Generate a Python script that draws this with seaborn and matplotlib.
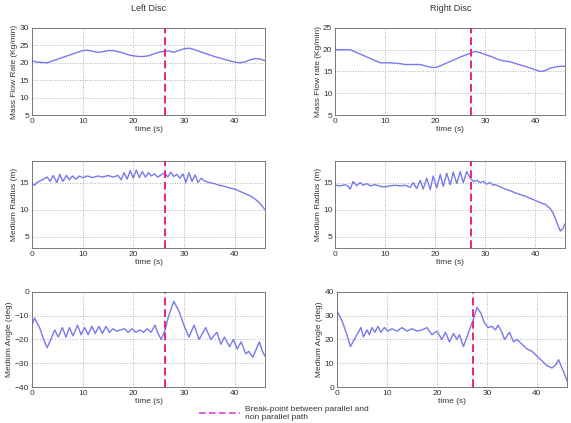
import numpy as np
import matplotlib
matplotlib.use("Agg")
import matplotlib.pyplot as plt
import seaborn as sns
from matplotlib.lines import Line2D

# Mass flow rate, left disc
t_flow_l = [0, 1, 3, 5, 7, 9, 10, 11, 12, 13, 14, 15, 16, 17, 18, 19, 20, 21, 22, 23,
            24, 25, 26, 27, 28, 29, 30, 31, 32, 33, 34, 35, 36, 37, 38, 39, 40, 41,
            42, 43, 44, 45, 46]
flow_l = [20.5, 20.2, 20.0, 21.0, 22.0, 23.0, 23.5, 23.6, 23.3, 23.0, 23.2, 23.5, 23.5,
          23.2, 22.8, 22.3, 22.0, 21.8, 21.8, 22.0, 22.5, 23.0, 23.3, 23.4, 23.0, 23.5,
          24.0, 24.2, 23.8, 23.3, 22.8, 22.3, 21.8, 21.4, 21.0, 20.6, 20.2, 20.0, 20.2,
          20.8, 21.2, 21.1, 20.6]

# Mass flow rate, right disc
t_flow_r = [0, 2, 3, 5, 7, 9, 11, 13, 14, 17, 19, 20, 21, 23, 25, 27, 28, 29, 31, 33,
            35, 37, 39, 41, 42, 43, 44, 45, 46]
flow_r = [20.0, 20.0, 20.0, 19.0, 18.0, 17.0, 17.0, 16.8, 16.6, 16.6, 16.0, 15.9, 16.3,
          17.3, 18.3, 19.2, 19.6, 19.3, 18.5, 17.6, 17.2, 16.5, 15.8, 15.0, 15.2, 15.8,
          16.0, 16.2, 16.2]

# Medium radius, left disc
t_rad_l = [0, 0.5, 1, 2, 3, 3.6, 4.2, 4.9, 5.5, 6.1, 6.8, 7.4, 8.0, 8.7, 9.3, 10, 11,
           12, 13, 14, 15, 16, 17, 17.6, 18.2, 18.8, 19.4, 20.0, 20.6, 21.2, 21.8, 22.4,
           23.0, 23.6, 24.2, 24.8, 25.5, 26.2, 26.8, 27.4, 28.0, 28.6, 29.2, 29.8, 30.4,
           31.0, 31.6, 32.2, 32.8, 33.4, 34, 35, 36, 37, 38, 39, 40, 41, 42, 43, 44, 45,
           45.5, 46]
rad_l = [14.8, 14.5, 15.0, 15.5, 16.0, 15.2, 16.3, 15.0, 16.5, 15.2, 16.3, 15.5, 16.2,
         15.6, 16.2, 15.9, 16.2, 15.9, 16.2, 16.0, 16.3, 16.0, 16.3, 15.5, 16.8, 15.6,
         17.2, 15.8, 17.3, 15.9, 17.0, 16.0, 16.8, 16.2, 16.6, 16.0, 16.4, 16.8, 16.0,
         16.9, 16.1, 16.5, 15.8, 16.6, 15.0, 16.8, 15.2, 16.4, 15.0, 15.8, 15.3, 15.0,
         14.8, 14.5, 14.3, 14.0, 13.8, 13.4, 13.0, 12.6, 12.0, 11.2, 10.6, 10.0]

# Medium radius, right disc
t_rad_r = [0, 1, 2, 2.6, 3.0, 3.6, 4.3, 5.0, 5.6, 6.3, 7, 8, 9, 10, 11, 12, 13, 14,
           15, 15.6, 16.3, 17.0, 17.6, 18.3, 19.0, 19.6, 20.3, 21.0, 21.6, 22.3, 23.0,
           23.6, 24.3, 25.0, 25.6, 26.3, 27.0, 27.6, 28.3, 29.0, 29.6, 30.3, 31.0, 31.6,
           32, 33, 34, 35, 36, 37, 38, 39, 40, 41, 42, 43, 43.5, 44, 44.5, 45, 45.5, 46]
rad_r = [14.5, 14.4, 14.6, 14.3, 13.8, 15.2, 14.4, 15.0, 14.5, 14.8, 14.4, 14.6, 14.3,
         14.2, 14.4, 14.5, 14.4, 14.5, 14.1, 15.0, 13.9, 15.4, 13.8, 15.8, 13.7, 16.2,
         14.0, 16.5, 14.3, 16.7, 14.6, 16.9, 14.8, 17.0, 15.0, 17.0, 15.8, 15.2, 15.4,
         15.0, 15.2, 14.7, 15.0, 14.5, 14.6, 14.2, 13.8, 13.5, 13.1, 12.8, 12.5, 12.1,
         11.7, 11.3, 11.0, 10.2, 9.5, 8.4, 7.2, 6.1, 6.5, 7.5]

# Medium angle, left disc
t_ang_l = [0, 0.5, 1.5, 2.3, 3.0, 3.7, 4.5, 5.2, 6.0, 6.7, 7.4, 8.1, 9.0, 9.7, 10.4,
           11.1, 11.8, 12.5, 13.2, 13.9, 14.6, 15.3, 16.0, 16.7, 17.5, 18.3, 19.0, 19.8,
           20.5, 21.3, 22.0, 22.8, 23.5, 24.3, 24.8, 25.5, 26.3, 27.0, 28.0, 29.0, 30.0,
           31.0, 32.0, 33.0, 34.3, 35.3, 36.5, 37.3, 38.0, 39.0, 39.8, 40.5, 41.3, 42.2,
           42.8, 43.6, 44.3, 44.9, 45.5, 46]
ang_l = [-14, -11, -15, -20, -23.5, -20, -16, -19, -15, -19, -15, -18.5, -14, -18, -15,
         -18, -14.5, -17.5, -14.5, -17.5, -14.5, -17, -15.5, -16.5, -16, -15.5, -17,
         -15.5, -17, -16, -17, -15.5, -17, -14, -17, -20, -16, -10, -4, -8, -14,
         -19, -14, -20, -15, -20, -17, -22, -19, -23, -20, -24, -21, -26, -25, -27.5,
         -24, -21, -25, -27]

# Medium angle, right disc
t_ang_r = [0, 1, 2, 2.7, 3.5, 4.0, 4.8, 5.3, 6.0, 6.5, 7.0, 7.6, 8.2, 8.8, 9.5, 10.2,
           11, 12, 13, 14, 15, 16, 17, 18, 19, 20, 21, 21.7, 22.5, 23.3, 24.0, 24.5,
           25.3, 25.8, 26.5, 27.2, 28.0, 28.8, 29.5, 30.2, 31.0, 31.7, 32.2, 33.0, 33.5,
           34.5, 35.3, 36, 37, 38, 39, 40, 41, 42, 43, 43.8, 44.3, 45, 45.6, 46]
ang_r = [32, 28, 22, 17, 20, 22, 25, 21, 24, 22, 25, 23, 25.5, 23, 25, 23.5, 24.5, 23.5,
         25, 23.5, 24.5, 23.5, 24, 25, 22, 23.5, 20, 23, 19, 22.5, 20, 22, 17, 20, 24,
         28, 33.5, 31, 27, 25, 25.5, 24, 26, 23, 20, 23, 19, 20, 18, 16, 15, 13, 11, 9,
         8, 9.5, 11.5, 8, 5, 2.5]

break_l = 26.3
break_r = 27.2

sns.set_style("white")
plt.rcParams["font.family"] = ["Liberation Sans", "DejaVu Sans"]

line_col = "#7878f0"
break_col = "#f0207a"
text_col = "#333333"

fig = plt.figure(figsize=(5.71, 4.23), dpi=100)

pos = {
    (0, 0): [0.056, 0.728, 0.408, 0.206],
    (0, 1): [0.587, 0.728, 0.403, 0.206],
    (1, 0): [0.056, 0.414, 0.408, 0.206],
    (1, 1): [0.587, 0.414, 0.403, 0.206],
    (2, 0): [0.056, 0.085, 0.408, 0.225],
    (2, 1): [0.590, 0.085, 0.403, 0.225],
}

panels = [
    ((0, 0), t_flow_l, flow_l, (5, 30), [5, 10, 15, 20, 25, 30], "Mass Flow Rate (Kg/min)", break_l),
    ((0, 1), t_flow_r, flow_r, (5, 25), [5, 10, 15, 20, 25], "Mass Flow rate (Kg/min)", break_r),
    ((1, 0), t_rad_l, rad_l, (3, 19), [5, 10, 15], "Medium Radius (m)", break_l),
    ((1, 1), t_rad_r, rad_r, (3, 19), [5, 10, 15], "Medium Radius (m)", break_r),
    ((2, 0), t_ang_l, ang_l, (-40, 0), [-40, -30, -20, -10, 0], "Medium Angle (deg)", break_l),
    ((2, 1), t_ang_r, ang_r, (0, 40), [0, 10, 20, 30, 40], "Medium Angle (deg)", break_r),
]

axes = {}
for key, tx, vals, ylim, yticks, ylabel, brk in panels:
    ax = fig.add_axes(pos[key])
    axes[key] = ax
    sns.lineplot(x=tx, y=vals, ax=ax, color=line_col, linewidth=1.0, estimator=None)
    ax.axvline(brk, color=break_col, linestyle=(0, (4, 2)), linewidth=1.4)
    ax.set_xlim(0, 46)
    ax.set_ylim(*ylim)
    ax.set_xticks([0, 10, 20, 30, 40])
    ax.set_yticks(yticks)
    ax.grid(True, linestyle=(0, (1, 2)), color="#999999", linewidth=0.6)
    ax.tick_params(direction="in", length=2, labelsize=6, colors=text_col, pad=2)
    for s in ax.spines.values():
        s.set_color("#666666")
        s.set_linewidth(0.6)
    ax.set_xlabel("time (s)", fontsize=6, color=text_col, labelpad=1)
    ax.set_ylabel(ylabel, fontsize=6, color=text_col, labelpad=1)

axes[(0, 0)].set_title("Left Disc", fontsize=6.5, color=text_col, pad=12)
axes[(0, 1)].set_title("Right Disc", fontsize=6.5, color=text_col, pad=12)

handle = Line2D([], [], color="#e040d0", linestyle=(0, (4, 2)), linewidth=1.2)
fig.legend(handles=[handle], labels=["Break-point between parallel and\nnon parallel path"],
           loc="lower left", bbox_to_anchor=(0.335, -0.012), frameon=False,
           fontsize=6, handlelength=5, handletextpad=0.5, labelcolor=text_col)

fig.savefig("out.png", dpi=100)
